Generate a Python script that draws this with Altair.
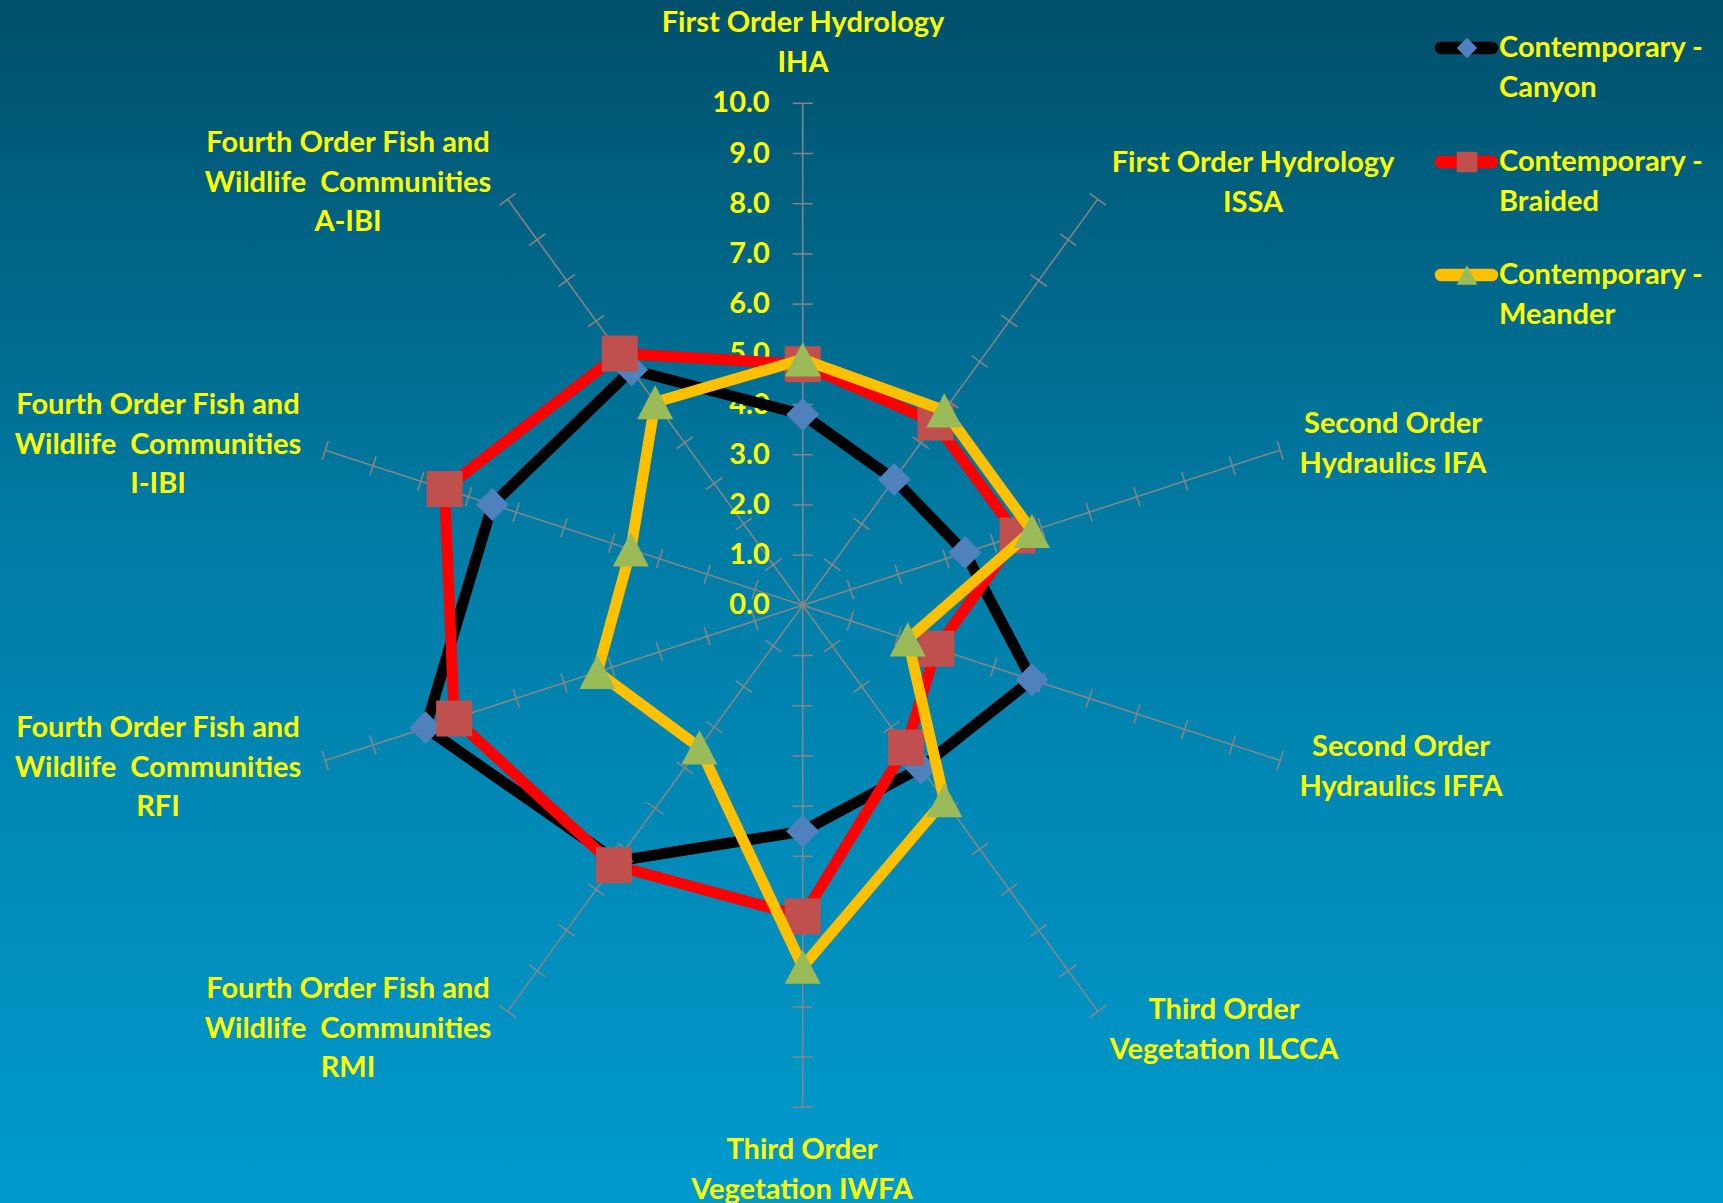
import altair as alt
import pandas as pd

# ---------------- data ----------------
categories = ["IHA", "ISSA", "IFA", "IFFA", "ILCCA", "IWFA", "RMI", "RFI", "I-IBI", "A-IBI"]
category_labels = [
    "First Order Hydrology\nIHA",
    "First Order Hydrology\nISSA",
    "Second Order\nHydraulics IFA",
    "Second Order\nHydraulics IFFA",
    "Third Order\nVegetation ILCCA",
    "Third Order\nVegetation IWFA",
    "Fourth Order Fish and\nWildlife\u00a0 Communities\nRMI",
    "Fourth Order Fish and\nWildlife\u00a0 Communities\nRFI",
    "Fourth Order Fish and\nWildlife\u00a0 Communities\nI-IBI",
    "Fourth Order Fish and\nWildlife\u00a0 Communities\nA-IBI",
]
canyon = [3.8, 3.1, 3.4, 4.8, 4.0, 4.5, 6.3, 7.9, 6.5, 5.8]
braided = [4.8, 4.5, 4.5, 2.8, 3.5, 6.2, 6.4, 7.3, 7.5, 6.2]
meander = [4.9, 4.8, 4.8, 2.2, 4.8, 7.2, 3.5, 4.3, 3.6, 5.0]
series_names = ["Contemporary - Canyon", "Contemporary - Braided", "Contemporary - Meander"]
legend_labels = ["Contemporary -\nCanyon", "Contemporary -\nBraided", "Contemporary -\nMeander"]
radial_ticks = [0, 1, 2, 3, 4, 5, 6, 7, 8, 9, 10]

# ---------------- layout ----------------
W, H = 1723, 1203
CX, CY, UNIT = 802.7, 605.3, 50.2


def ux(px):
    return (px - CX) / UNIT


def uy(py):
    return (CY - py) / UNIT


XDOM = [ux(0), ux(W)]
YDOM = [uy(H), uy(0)]
N = len(categories)
RMAX = max(radial_ticks)
HALF_TICK = 10 / UNIT

FONT = "Lato"
YELLOW = "#FFFF00"
GRID = "#878787"
FS = 29
LH = 39.5

# (centre x, first-line centre y) in pixels
label_pos = [(803, 23), (1253, 163), (1393, 424), (1401, 747), (1224, 1010),
             (802, 1150), (348, 989), (158, 728), (158, 405), (348, 143)]
legend_line_y = [48, 162, 275]
legend_text_y = [48, 162, 275]

styles = [
    dict(line="#000000", marker="#4F81BD", shape="diamond", size=1089),
    dict(line="#FF0000", marker="#C0504D", shape="square", size=1296),
    dict(line="#FFC000", marker="#9BBB59", shape="M-1,0.95L0,-0.95L1,0.95Z", size=1296),
]
legend_sizes = [420, 420, 420]


def X(f):
    return alt.X(f, type="quantitative", scale=alt.Scale(domain=XDOM, nice=False, zero=False), axis=None)


def Y(f):
    return alt.Y(f, type="quantitative", scale=alt.Scale(domain=YDOM, nice=False, zero=False), axis=None)


ANG = f"2*PI*datum.k/{N}"

# background gradient
bg = alt.Chart(alt.Data(values=[{"a": 1}])).mark_rect(
    color={"gradient": "linear", "x1": 0, "y1": 0, "x2": 0, "y2": 1,
           "stops": [{"offset": 0, "color": "#00506B"},
                     {"offset": 0.45, "color": "#007CA5"},
                     {"offset": 1, "color": "#009ACD"}]}
).encode(x=alt.value(0), x2=alt.value(W), y=alt.value(0), y2=alt.value(H))

# spokes
spoke_df = pd.DataFrame({"k": list(range(N))})
spokes = alt.Chart(spoke_df).transform_calculate(
    x0="0", y0="0",
    x1=f"{RMAX}*sin({ANG})", y1=f"{RMAX}*cos({ANG})",
).mark_rule(color=GRID, strokeWidth=1.5).encode(x=X("x0"), y=Y("y0"), x2="x1:Q", y2="y1:Q")

# tick marks across each spoke
tick_rows = [{"k": k, "v": v} for k in range(N) for v in radial_ticks if v > 0]
ticks = alt.Chart(pd.DataFrame(tick_rows)).transform_calculate(
    a=ANG,
).transform_calculate(
    tx1=f"datum.v*sin(datum.a) - {HALF_TICK}*cos(datum.a)",
    tx2=f"datum.v*sin(datum.a) + {HALF_TICK}*cos(datum.a)",
    ty1=f"datum.v*cos(datum.a) + {HALF_TICK}*sin(datum.a)",
    ty2=f"datum.v*cos(datum.a) - {HALF_TICK}*sin(datum.a)",
).mark_rule(color=GRID, strokeWidth=1.5).encode(x=X("tx1"), y=Y("ty1"), x2="tx2:Q", y2="ty2:Q")

# radial axis labels
rad_df = pd.DataFrame({"v": radial_ticks, "t": [f"{v:.1f}" for v in radial_ticks]})
rad_labels = alt.Chart(rad_df).transform_calculate(x0="0").mark_text(
    align="right", baseline="middle", dx=-33, font=FONT, fontSize=FS, fontWeight="bold", color=YELLOW
).encode(x=X("x0"), y=Y("v"), text="t:N")

# category labels
cat_df = pd.DataFrame({
    "label": category_labels,
    "lx": [ux(p[0]) for p in label_pos],
    "ly": [uy(p[1]) for p in label_pos],
})
cat_labels = alt.Chart(cat_df).mark_text(
    align="center", baseline="middle", lineBreak="\n", lineHeight=LH,
    font=FONT, fontSize=FS, fontWeight="bold", color=YELLOW
).encode(x=X("lx"), y=Y("ly"), text="label:N")

# series
layers = [bg, spokes, ticks, rad_labels, cat_labels]
for name, vals, st in zip(series_names, [canyon, braided, meander], styles):
    df = pd.DataFrame({"series": name, "k": list(range(N + 1)), "value": [vals[i % N] for i in range(N + 1)]})
    base = alt.Chart(df).transform_calculate(px=f"datum.value*sin({ANG})", py=f"datum.value*cos({ANG})")
    line = base.mark_line(color=st["line"], strokeWidth=11, strokeJoin="round", strokeCap="round").encode(
        x=X("px"), y=Y("py"), order="k:Q")
    pts = base.transform_filter(f"datum.k < {N}").mark_point(
        shape=st["shape"], size=st["size"], filled=True, color=st["marker"], opacity=1, strokeWidth=0
    ).encode(x=X("px"), y=Y("py"))
    layers += [line, pts]

# legend
for i, (lab, st) in enumerate(zip(legend_labels, styles)):
    ldf = pd.DataFrame({
        "lx1": [ux(1441)], "lx2": [ux(1492)], "ly": [uy(legend_line_y[i])],
        "mx": [ux(1467)], "tx": [ux(1499)], "ty": [uy(legend_text_y[i])], "label": [lab],
    })
    lb = alt.Chart(ldf)
    layers.append(lb.mark_rule(color=st["line"], strokeWidth=12.5, strokeCap="round").encode(
        x=X("lx1"), x2="lx2:Q", y=Y("ly")))
    layers.append(lb.mark_point(shape=st["shape"], size=legend_sizes[i], filled=True, color=st["marker"],
                                opacity=1, strokeWidth=0).encode(x=X("mx"), y=Y("ly")))
    layers.append(lb.mark_text(align="left", baseline="middle", lineBreak="\n", lineHeight=LH,
                               font=FONT, fontSize=FS, fontWeight="bold", color=YELLOW).encode(
        x=X("tx"), y=Y("ty"), text="label:N"))

chart = alt.layer(*layers).properties(
    width=W, height=H, padding=0, autosize=alt.AutoSizeParams(type="none"), background="#0099CC"
).configure_view(stroke=None)

chart.save("out.html", embed_options={"renderer": "svg", "actions": False})
